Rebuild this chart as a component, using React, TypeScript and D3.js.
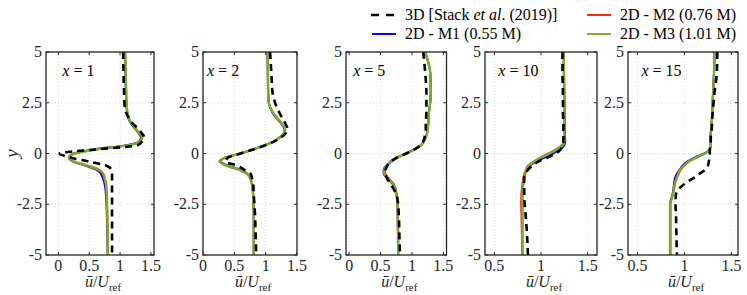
import React, { useRef, useEffect } from "react";
import * as d3 from "d3";

// shared y sampling of every profile
const yLevels = [5, 4, 3, 2.5, 2, 1.5, 1.2, 1, 0.8, 0.6, 0.4, 0.2, 0, -0.2, -0.4, -0.6, -0.8, -1, -1.2, -1.5, -2, -2.5, -3, -4, -5];

// x = 1
const stack1 = [1.05, 1.055, 1.065, 1.07, 1.1, 1.2, 1.3, 1.35, 1.39, 1.36, 1.28, 0.6, 0.02, 0.2, 0.5, 0.78, 0.86, 0.87, 0.87, 0.87, 0.87, 0.87, 0.87, 0.87, 0.87];
const m1x1 = [1.08, 1.085, 1.095, 1.1, 1.115, 1.17, 1.25, 1.3, 1.34, 1.31, 1.08, 0.58, 0.25, 0.17, 0.24, 0.44, 0.62, 0.69, 0.72, 0.75, 0.77, 0.78, 0.785, 0.795, 0.8];
const m2x1 = [1.085, 1.09, 1.1, 1.105, 1.12, 1.18, 1.26, 1.31, 1.35, 1.32, 1.1, 0.6, 0.26, 0.17, 0.25, 0.46, 0.65, 0.72, 0.74, 0.765, 0.78, 0.785, 0.79, 0.8, 0.8];
const m3x1 = [1.085, 1.09, 1.1, 1.105, 1.12, 1.18, 1.26, 1.31, 1.36, 1.33, 1.12, 0.62, 0.27, 0.17, 0.26, 0.48, 0.66, 0.73, 0.75, 0.775, 0.785, 0.79, 0.795, 0.8, 0.8];

// x = 2
const stack2 = [1.07, 1.09, 1.11, 1.15, 1.22, 1.31, 1.35, 1.32, 1.25, 1.14, 0.99, 0.8, 0.6, 0.4, 0.36, 0.55, 0.66, 0.76, 0.78, 0.8, 0.81, 0.82, 0.83, 0.84, 0.85];
const m1x2 = [1.03, 1.035, 1.04, 1.05, 1.11, 1.24, 1.3, 1.29, 1.23, 1.13, 0.98, 0.8, 0.6, 0.35, 0.28, 0.4, 0.6, 0.71, 0.75, 0.78, 0.8, 0.805, 0.81, 0.81, 0.81];
const m2x2 = [1.03, 1.035, 1.04, 1.05, 1.12, 1.25, 1.31, 1.29, 1.23, 1.13, 0.98, 0.8, 0.6, 0.35, 0.26, 0.37, 0.57, 0.7, 0.75, 0.78, 0.8, 0.805, 0.81, 0.81, 0.81];
const m3x2 = [1.03, 1.035, 1.04, 1.05, 1.12, 1.25, 1.31, 1.29, 1.23, 1.13, 0.98, 0.8, 0.6, 0.36, 0.27, 0.38, 0.58, 0.7, 0.75, 0.78, 0.8, 0.805, 0.81, 0.81, 0.81];

// x = 5
const stack5 = [1.18, 1.21, 1.23, 1.23, 1.23, 1.22, 1.22, 1.21, 1.2, 1.18, 1.13, 1.04, 0.91, 0.76, 0.66, 0.61, 0.58, 0.58, 0.6, 0.66, 0.75, 0.78, 0.79, 0.8, 0.81];
const m1x5 = [1.21, 1.29, 1.3, 1.29, 1.27, 1.26, 1.25, 1.24, 1.22, 1.19, 1.14, 1.04, 0.9, 0.76, 0.66, 0.59, 0.55, 0.55, 0.6, 0.69, 0.75, 0.77, 0.775, 0.78, 0.78];
const m2x5 = [1.21, 1.29, 1.3, 1.29, 1.27, 1.26, 1.25, 1.24, 1.22, 1.19, 1.14, 1.04, 0.91, 0.77, 0.67, 0.6, 0.57, 0.58, 0.62, 0.71, 0.76, 0.77, 0.77, 0.775, 0.78];
const m3x5 = [1.21, 1.29, 1.3, 1.29, 1.27, 1.26, 1.25, 1.24, 1.22, 1.19, 1.14, 1.04, 0.91, 0.77, 0.67, 0.6, 0.56, 0.56, 0.61, 0.7, 0.75, 0.77, 0.775, 0.78, 0.78];

// x = 10
const stack10 = [1.23, 1.23, 1.235, 1.235, 1.235, 1.24, 1.24, 1.24, 1.24, 1.24, 1.23, 1.21, 1.16, 1.07, 0.97, 0.91, 0.86, 0.84, 0.82, 0.82, 0.82, 0.825, 0.835, 0.85, 0.86];
const m1x10 = [1.245, 1.247, 1.25, 1.252, 1.253, 1.255, 1.255, 1.256, 1.258, 1.26, 1.25, 1.2, 1.13, 1.04, 0.95, 0.88, 0.85, 0.83, 0.82, 0.81, 0.8, 0.8, 0.8, 0.8, 0.8];
const m2x10 = [1.243, 1.245, 1.248, 1.25, 1.25, 1.25, 1.25, 1.25, 1.25, 1.25, 1.22, 1.16, 1.08, 0.99, 0.92, 0.86, 0.84, 0.82, 0.81, 0.8, 0.79, 0.787, 0.79, 0.795, 0.8];
const m3x10 = [1.243, 1.245, 1.248, 1.25, 1.25, 1.25, 1.25, 1.25, 1.25, 1.25, 1.23, 1.17, 1.09, 1.0, 0.93, 0.87, 0.85, 0.83, 0.82, 0.81, 0.8, 0.8, 0.8, 0.8, 0.8];

// x = 15
const stack15 = [1.35, 1.345, 1.32, 1.31, 1.3, 1.295, 1.29, 1.29, 1.28, 1.28, 1.275, 1.27, 1.27, 1.265, 1.26, 1.25, 1.22, 1.16, 1.1, 1.0, 0.91, 0.905, 0.91, 0.915, 0.92];
const m1x15 = [1.32, 1.315, 1.305, 1.3, 1.295, 1.29, 1.285, 1.28, 1.28, 1.28, 1.28, 1.27, 1.21, 1.11, 1.03, 0.98, 0.95, 0.92, 0.9, 0.89, 0.875, 0.85, 0.85, 0.85, 0.85];
const m2x15 = [1.32, 1.315, 1.305, 1.3, 1.295, 1.29, 1.285, 1.28, 1.28, 1.28, 1.28, 1.27, 1.22, 1.12, 1.04, 0.99, 0.95, 0.93, 0.91, 0.895, 0.875, 0.845, 0.845, 0.845, 0.845];
const m3x15 = [1.32, 1.315, 1.305, 1.3, 1.295, 1.29, 1.285, 1.28, 1.28, 1.28, 1.28, 1.27, 1.22, 1.13, 1.05, 1.0, 0.96, 0.94, 0.92, 0.9, 0.88, 0.85, 0.85, 0.85, 0.85];

const xTicksNear = [0, 0.5, 1, 1.5];
const xTicksFar = [0.5, 1, 1.5];
const yTicks = [-5, -2.5, 0, 2.5, 5];

const seriesNames = ["3D [Stack et al. (2019)]", "2D - M1 (0.55 M)", "2D - M2 (0.76 M)", "2D - M3 (1.01 M)"];
const seriesColors = ["#000000", "#0000ff", "#f5281a", "#77ac30"];

const FONT = "'Liberation Serif', 'DejaVu Serif', serif";

export default function App() {
  const ref = useRef<SVGSVGElement>(null);

  useEffect(() => {
    const svg = d3.select(ref.current);
    svg.selectAll("*").remove();

    const top = 52;
    const bottom = 255;
    const y = d3.scaleLinear().domain([-5, 5]).range([bottom, top]);

    const panels = [
      { label: "1", left: 46, right: 154, domain: [-0.2, 1.55], ticks: xTicksNear, data: [stack1, m1x1, m2x1, m3x1] },
      { label: "2", left: 203, right: 297, domain: [0, 1.5], ticks: xTicksNear, data: [stack2, m1x2, m2x2, m3x2] },
      { label: "5", left: 346, right: 446.5, domain: [-0.05, 1.55], ticks: xTicksNear, data: [stack5, m1x5, m2x5, m3x5] },
      { label: "10", left: 485, right: 597, domain: [0.4, 1.6], ticks: xTicksFar, data: [stack10, m1x10, m2x10, m3x10] },
      { label: "15", left: 628, right: 738, domain: [0.4, 1.57], ticks: xTicksFar, data: [stack15, m1x15, m2x15, m3x15] },
    ];

    panels.forEach((p, pi) => {
      const x = d3.scaleLinear().domain(p.domain).range([p.left, p.right]);
      const g = svg.append("g");

      const clipId = `clip-${pi}`;
      g.append("clipPath")
        .attr("id", clipId)
        .append("rect")
        .attr("x", p.left)
        .attr("y", top)
        .attr("width", p.right - p.left)
        .attr("height", bottom - top);

      // dotted grid
      g.selectAll(".gx")
        .data(p.ticks)
        .enter()
        .append("line")
        .attr("x1", (d) => x(d))
        .attr("x2", (d) => x(d))
        .attr("y1", top)
        .attr("y2", bottom)
        .attr("stroke", "#cfcfcf")
        .attr("stroke-width", 0.8)
        .attr("stroke-dasharray", "1,2");
      g.selectAll(".gy")
        .data(yTicks)
        .enter()
        .append("line")
        .attr("x1", p.left)
        .attr("x2", p.right)
        .attr("y1", (d) => y(d))
        .attr("y2", (d) => y(d))
        .attr("stroke", "#cfcfcf")
        .attr("stroke-width", 0.8)
        .attr("stroke-dasharray", "1,2");

      // profiles: M1, M2, M3, then 3D reference on top
      const line = d3
        .line<[number, number]>()
        .x((d) => x(d[0]))
        .y((d) => y(d[1]))
        .curve(d3.curveMonotoneY);

      [1, 2, 3, 0].forEach((si) => {
        const pts = yLevels.map((yy, i) => [p.data[si][i], yy] as [number, number]);
        g.append("path")
          .attr("d", line(pts))
          .attr("fill", "none")
          .attr("clip-path", `url(#${clipId})`)
          .attr("stroke", seriesColors[si])
          .attr("stroke-width", si === 0 ? 2.6 : si === 3 ? 2.4 : 2)
          .attr("stroke-dasharray", si === 0 ? "7,5" : null)
          .attr("stroke-linejoin", "round");
      });

      // box and inward ticks
      g.append("rect")
        .attr("x", p.left)
        .attr("y", top)
        .attr("width", p.right - p.left)
        .attr("height", bottom - top)
        .attr("fill", "none")
        .attr("stroke", "#262626")
        .attr("stroke-width", 1.3);

      const tl = 3;
      p.ticks.forEach((t) => {
        g.append("line").attr("x1", x(t)).attr("x2", x(t)).attr("y1", bottom).attr("y2", bottom - tl).attr("stroke", "#262626");
        g.append("line").attr("x1", x(t)).attr("x2", x(t)).attr("y1", top).attr("y2", top + tl).attr("stroke", "#262626");
      });
      yTicks.forEach((t) => {
        g.append("line").attr("x1", p.left).attr("x2", p.left + tl).attr("y1", y(t)).attr("y2", y(t)).attr("stroke", "#262626");
        g.append("line").attr("x1", p.right).attr("x2", p.right - tl).attr("y1", y(t)).attr("y2", y(t)).attr("stroke", "#262626");
      });

      // tick labels
      g.selectAll(".xl")
        .data(p.ticks)
        .enter()
        .append("text")
        .attr("x", (d) => x(d))
        .attr("y", 271)
        .attr("text-anchor", "middle")
        .style("font-family", FONT)
        .style("font-size", "16px")
        .attr("fill", "#262626")
        .text((d) => String(d));
      g.selectAll(".yl")
        .data(yTicks)
        .enter()
        .append("text")
        .attr("x", p.left - 4)
        .attr("y", (d) => y(d) + 5)
        .attr("text-anchor", "end")
        .style("font-family", FONT)
        .style("font-size", "16px")
        .attr("fill", "#262626")
        .text((d) => String(d));

      // station label
      const ann = g
        .append("text")
        .attr("x", x(p.ticks[0]) + 4)
        .attr("y", 76)
        .style("font-family", FONT)
        .style("font-size", "16px")
        .attr("fill", "#000");
      ann.append("tspan").style("font-style", "italic").text("x");
      ann.append("tspan").text(` = ${p.label}`);

      // x axis label
      const xl = g
        .append("text")
        .attr("x", (p.left + p.right) / 2 + 3)
        .attr("y", 287)
        .attr("text-anchor", "middle")
        .style("font-family", FONT)
        .style("font-size", "16px")
        .attr("fill", "#262626");
      xl.append("tspan").style("font-style", "italic").text("ū");
      xl.append("tspan").text("/");
      xl.append("tspan").style("font-style", "italic").text("U");
      xl.append("tspan").attr("dy", 4).style("font-size", "11px").text("ref");
    });

    // y axis label
    svg
      .append("text")
      .attr("transform", `translate(18, ${y(0)}) rotate(-90)`)
      .attr("text-anchor", "middle")
      .style("font-family", FONT)
      .style("font-size", "19px")
      .style("font-style", "italic")
      .attr("fill", "#262626")
      .text("y");

    // legend
    const legendPos = [
      { x: 371, y: 15 },
      { x: 372, y: 34 },
      { x: 587, y: 15 },
      { x: 587, y: 34 },
    ];
    legendPos.forEach((lp, i) => {
      svg
        .append("line")
        .attr("x1", lp.x)
        .attr("x2", lp.x + 24)
        .attr("y1", lp.y)
        .attr("y2", lp.y)
        .attr("stroke", seriesColors[i])
        .attr("stroke-width", i === 0 ? 2.6 : 2)
        .attr("stroke-dasharray", i === 0 ? "8,7" : null);
      const t = svg
        .append("text")
        .attr("x", i < 2 ? 405 : 620)
        .attr("y", lp.y + 5)
        .style("font-family", FONT)
        .style("font-size", "16px")
        .attr("fill", "#000");
      if (i === 0) {
        t.append("tspan").text("3D [Stack ");
        t.append("tspan").style("font-style", "italic").text("et al");
        t.append("tspan").text(". (2019)]");
      } else {
        t.text(seriesNames[i]);
      }
    });
  }, []);

  return (
    <svg
      ref={ref}
      width={747}
      height={295}
      style={{ position: "absolute", left: 0, top: 0, background: "#fff" }}
    />
  );
}
